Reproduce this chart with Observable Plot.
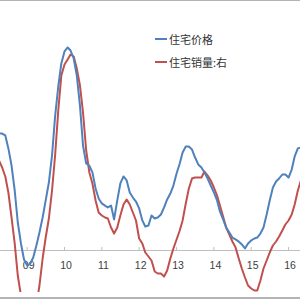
<!DOCTYPE html>
<html>
<head>
<meta charset="utf-8">
<script src="https://cdn.jsdelivr.net/npm/d3@7"></script>
<script src="https://cdn.jsdelivr.net/npm/@observablehq/plot@0.6"></script>
<style>
  html, body { margin: 0; padding: 0; background: #fff; }
  #wrap { position: relative; width: 300px; height: 300px; overflow: hidden; font-family: "Liberation Sans", Arial, sans-serif; }
  #wrap svg { position: absolute; left: 0; top: 0; }
  .bline { position: absolute; left: 0; width: 300px; background: #b4b4b4; }
  .leg { position: absolute; left: 155px; font: 11px "Noto Sans CJK SC", sans-serif; color: #333; display: flex; align-items: center; line-height: 14px; }
  .leg span.sw { display: inline-block; width: 12px; height: 2px; margin-right: 2px; }
</style>
</head>
<body>
<div id="wrap"></div>
<script>
// Monthly series, Apr 2008 .. May 2016
const startYear = 2008, startMonth = 3; // April (0-based)
const priceYoY = [7.31, 7.31, 7.19, 6.38, 5.31, 3.75, 1.75, 0.44, -0.56,
  -0.94, -0.81, -0.44, 0.31, 1.13, 2.06, 3.13, 4.25, 5.94, 8.38, 10.25, 11.69,
  12.44, 12.69, 12.5, 12.0, 10.94, 9.06, 6.56, 5.44, 5.31, 4.88, 3.88, 3.25,
  2.94, 2.81, 2.69, 2.81, 1.94, 3.13, 4.19, 4.63, 4.38, 3.63, 3.31, 3.06,
  2.63, 1.88, 1.5, 1.56, 2.19, 2.0, 2.06, 2.25, 2.69, 3.19, 3.56, 4.06,
  4.81, 5.44, 6.13, 6.5, 6.5, 6.31, 5.81, 5.38, 5.19, 4.88, 4.5, 4.06,
  3.63, 3.13, 2.44, 1.94, 1.44, 1.13, 0.81, 0.69, 0.56, 0.38, 0.13, 0.44,
  0.63, 0.75, 0.81, 1.06, 1.44, 2.25, 3.13, 3.94, 4.31, 4.5, 4.75, 4.75,
  4.56, 5.06, 5.88, 6.38, 6.44];
const salesYoY = [36, 33.2, 29.6, 23.2, 13.2, 2.8, -10, -18, -28,
  -35.2, -38, -32, -22, -14, -3.2, 5.2, 12.8, 24, 38, 56, 70,
  74.4, 76.4, 78.4, 77.6, 72.8, 66, 55.2, 40, 31.2, 26.8, 20, 15.2,
  14, 13.2, 12.8, 9.2, 6.8, 9.2, 14, 18.4, 20.4, 18.4, 15.2, 12,
  4.8, 2.8, -0.8, -2.4, -4, -8.4, -9.2, -9.2, -10.4, -8, -3.2, 0.8,
  4.4, 8, 12, 18.8, 24.8, 28.8, 29.2, 29.2, 29.2, 31.6, 30, 28,
  25.2, 22, 18, 13.6, 9.2, 6.4, 3.6, 1.2, -3.2, -7.2, -10.8, -14,
  -15.2, -16, -16, -12, -7.2, -4, -0.8, 2, 3.6, 5.6, 8, 10.4,
  12, 14.4, 18.4, 24, 28];
const tickYears = [2009, 2010, 2011, 2012, 2013, 2014, 2015, 2016];
const tickLabels = ["09", "10", "11", "12", "13", "14", "15", "16"];
const seriesNames = ["住宅价格", "住宅销量:右"];
const seriesColors = ["#4F81BD", "#C0504D"];

// Axis domains (axes themselves are hidden in the reference)
const leftDomain = [-2.625, 15.625];   // price YoY %
const rightDomain = [-16.8, 100];      // sales YoY % (right axis)
const toLeft = d3.scaleLinear().domain(rightDomain).range(leftDomain);

const dates = priceYoY.map((_, i) => new Date(Date.UTC(startYear, startMonth + i, 1)));
const price = priceYoY.map((v, i) => ({date: dates[i], v}));
const sales = salesYoY.map((v, i) => ({date: dates[i], v}));
const ticks = tickYears.map((y, i) => ({date: new Date(Date.UTC(y, 0, 1)), label: tickLabels[i]}));

const chart = Plot.plot({
  width: 300,
  height: 300,
  marginTop: 0,
  marginBottom: 8,
  marginLeft: 0,
  marginRight: 0,
  x: {type: "utc", domain: [new Date(Date.UTC(2008, 3, 15)), new Date(Date.UTC(2016, 3, 27))], axis: null},
  y: {domain: leftDomain, axis: null},
  marks: [
    Plot.ruleY([0], {stroke: "#bfbfbf", strokeWidth: 1}),
    Plot.ruleX(ticks, {x: "date", y1: 0, y2: 0.19, stroke: "#bfbfbf", strokeWidth: 1}),
    Plot.text(ticks, {x: "date", y: 0, text: "label", dy: 15, dx: 1.5, fontSize: 10.5, fill: "#404040", fontFamily: "Liberation Sans, Arial, sans-serif"}),
    Plot.line(sales, {x: "date", y: d => toLeft(d.v), stroke: seriesColors[1], strokeWidth: 2, clip: true}),
    Plot.line(price, {x: "date", y: "v", stroke: seriesColors[0], strokeWidth: 2, clip: true})
  ]
});

const wrapEl = document.getElementById("wrap");
wrapEl.appendChild(chart);

const topLine = document.createElement("div");
topLine.className = "bline"; topLine.style.top = "0px"; topLine.style.height = "1px";
wrapEl.appendChild(topLine);
const botLine = document.createElement("div");
botLine.className = "bline"; botLine.style.top = "297px"; botLine.style.height = "2px";
wrapEl.appendChild(botLine);

seriesNames.forEach((name, i) => {
  const d = document.createElement("div");
  d.className = "leg";
  d.style.top = (i === 0 ? 32 : 55) + "px";
  d.innerHTML = `<span class="sw" style="background:${seriesColors[i]}"></span>${name}`;
  wrapEl.appendChild(d);
});
</script>
</body>
</html>
